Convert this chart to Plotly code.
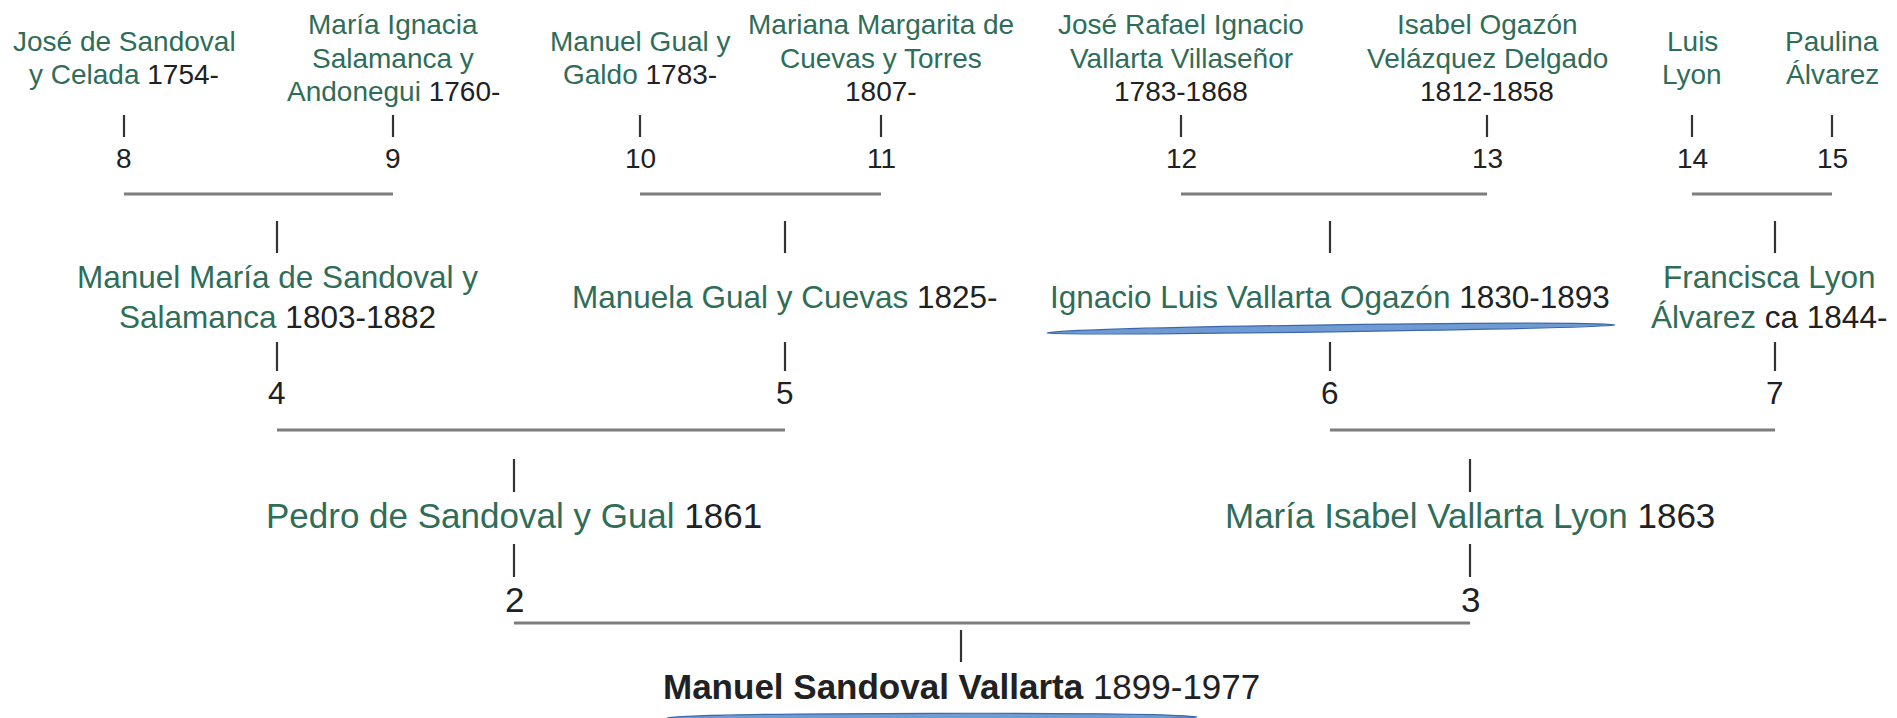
import plotly.graph_objects as go

# ---------------- data ----------------
numbers = list(range(1, 16))
names = [
    "Manuel Sandoval Vallarta",
    "Pedro de Sandoval y Gual",
    "María Isabel Vallarta Lyon",
    "Manuel María de Sandoval y Salamanca",
    "Manuela Gual y Cuevas",
    "Ignacio Luis Vallarta Ogazón",
    "Francisca Lyon Álvarez",
    "José de Sandoval y Celada",
    "María Ignacia Salamanca y Andonegui",
    "Manuel Gual y Galdo",
    "Mariana Margarita de Cuevas y Torres",
    "José Rafael Ignacio Vallarta Villaseñor",
    "Isabel Ogazón Velázquez Delgado",
    "Luis Lyon",
    "Paulina Álvarez",
]
years = ["1899-1977", "1861", "1863", "1803-1882", "1825-", "1830-1893", "ca 1844-",
         "1754-", "1760-", "1783-", "1807-", "1783-1868", "1812-1858", "", ""]
underlined = [1, 6]

# ---------------- layout (pixel space) ----------------
W, H = 1897, 718
NODE_X = {1: 961, 2: 514, 3: 1470, 4: 277, 5: 785, 6: 1330, 7: 1775,
          8: 124, 9: 393, 10: 640, 11: 881, 12: 1181, 13: 1487, 14: 1692, 15: 1832}
# text centre may differ slightly from tick position (cell clipping at right edge)
TEXT_X = {7: 1769}
# words per wrapped line (year counts as one token)
WRAP = {4: [5, 2], 7: [2, 2], 8: [3, 3], 9: [2, 2, 2], 10: [3, 2], 11: [3, 3, 1],
        12: [3, 2, 1], 13: [2, 2, 1], 14: [1, 1], 15: [1, 1]}
ROWS = {
    1: dict(top=(630, 662), text=686, font=35, spacing=40),
    2: dict(top=(459, 492), text=515, bot=(544, 577), num=599, hline=623, font=35, spacing=40),
    3: dict(top=(221, 253), text=297, bot=(342, 371), num=393, hline=430, font=31.5, spacing=40),
    4: dict(text=58, bot=(115, 137), num=158, hline=194, font=28, spacing=33.5),
}
GREEN = "#2f6d58"
BLACK = "#202122"
TICK = "#333333"
HLINE = "#7d7d7d"
FONT = "Liberation Sans, Arial, Helvetica, sans-serif"


def gen_of(n):
    return n.bit_length()


fig = go.Figure()
annotations = []

# horizontal connectors (parents pair) and ticks
hx, hy = [], []
tx, ty = [], []
for n in numbers:
    g = gen_of(n)
    row = ROWS[g]
    x = NODE_X[n]
    if 2 * n + 1 <= 15:
        prow = ROWS[g + 1]
        hx += [NODE_X[2 * n], NODE_X[2 * n + 1], None]
        hy += [prow["hline"], prow["hline"], None]
        tx += [x, x, None]
        ty += [row["top"][0], row["top"][1], None]
    if "bot" in row:
        tx += [x, x, None]
        ty += [row["bot"][0], row["bot"][1], None]
        annotations.append(dict(x=x, y=row["num"], text=str(n), showarrow=False,
                                xanchor="center", yanchor="middle",
                                font=dict(size=row["font"], color=BLACK, family=FONT)))

fig.add_trace(go.Scatter(x=hx, y=hy, mode="lines", line=dict(color=HLINE, width=3.2),
                         hoverinfo="skip", showlegend=False))
fig.add_trace(go.Scatter(x=tx, y=ty, mode="lines", line=dict(color=TICK, width=2.2),
                         hoverinfo="skip", showlegend=False))

# name labels
for n in numbers:
    g = gen_of(n)
    row = ROWS[g]
    name, year = names[n - 1], years[n - 1]
    tokens = [(w, "name") for w in name.split()]
    if year:
        tokens.append((year, "year"))
    wrap = WRAP.get(n, [len(tokens)])
    lines, i = [], 0
    for cnt in wrap:
        lines.append(tokens[i:i + cnt])
        i += cnt
    nl = len(lines)
    for li, line in enumerate(lines):
        parts = []
        name_words = [t for t, k in line if k == "name"]
        year_words = [t for t, k in line if k == "year"]
        if name_words:
            s = " ".join(name_words)
            if n == 1:
                parts.append(f"<b>{s}</b>")
            else:
                parts.append(f"<span style='color:{GREEN}'>{s}</span>")
        if year_words:
            parts.append(f"<span style='color:{BLACK}'>{year_words[0]}</span>")
        y = row["text"] + (li - (nl - 1) / 2) * row["spacing"]
        annotations.append(dict(x=TEXT_X.get(n, NODE_X[n]), y=y, text=" ".join(parts),
                                showarrow=False, xanchor="center", yanchor="middle",
                                font=dict(size=row["font"], color=BLACK, family=FONT)))

# blue hand-drawn underline swooshes
SWOOSH = {6: dict(x0=1047, x1=1615, yl=333, yr=325, th=9),
          1: dict(x0=667, x1=1197, yl=718, yr=717, th=9)}
shapes = []
for n in underlined:
    s = SWOOSH[n]
    x0, x1, yl, yr, th = s["x0"], s["x1"], s["yl"], s["yr"], s["th"]
    a = x0 + (x1 - x0) * 0.06
    b = x0 + (x1 - x0) * 0.94
    ya = yl + (yr - yl) * 0.06
    yb = yl + (yr - yl) * 0.94
    path = (f"M {x0},{yl} C {a},{ya - th * 0.62} {b},{yb - th * 0.62} {x1},{yr} "
            f"C {b},{yb + th * 0.42} {a},{ya + th * 0.42} {x0},{yl} Z")
    shapes.append(dict(type="path", path=path, xref="x", yref="y",
                       fillcolor="#6f9bd2", line=dict(color="#3b68ad", width=1.2)))

fig.update_layout(
    width=W, height=H,
    margin=dict(l=0, r=0, t=0, b=0),
    paper_bgcolor="white", plot_bgcolor="white",
    xaxis=dict(range=[0, W], visible=False, fixedrange=True),
    yaxis=dict(range=[H, 0], visible=False, fixedrange=True),
    annotations=annotations,
    shapes=shapes,
    showlegend=False,
)

fig.write_html("out.html", config={"displayModeBar": False},
               post_script="document.body.style.margin='0';document.body.style.overflow='hidden';")
